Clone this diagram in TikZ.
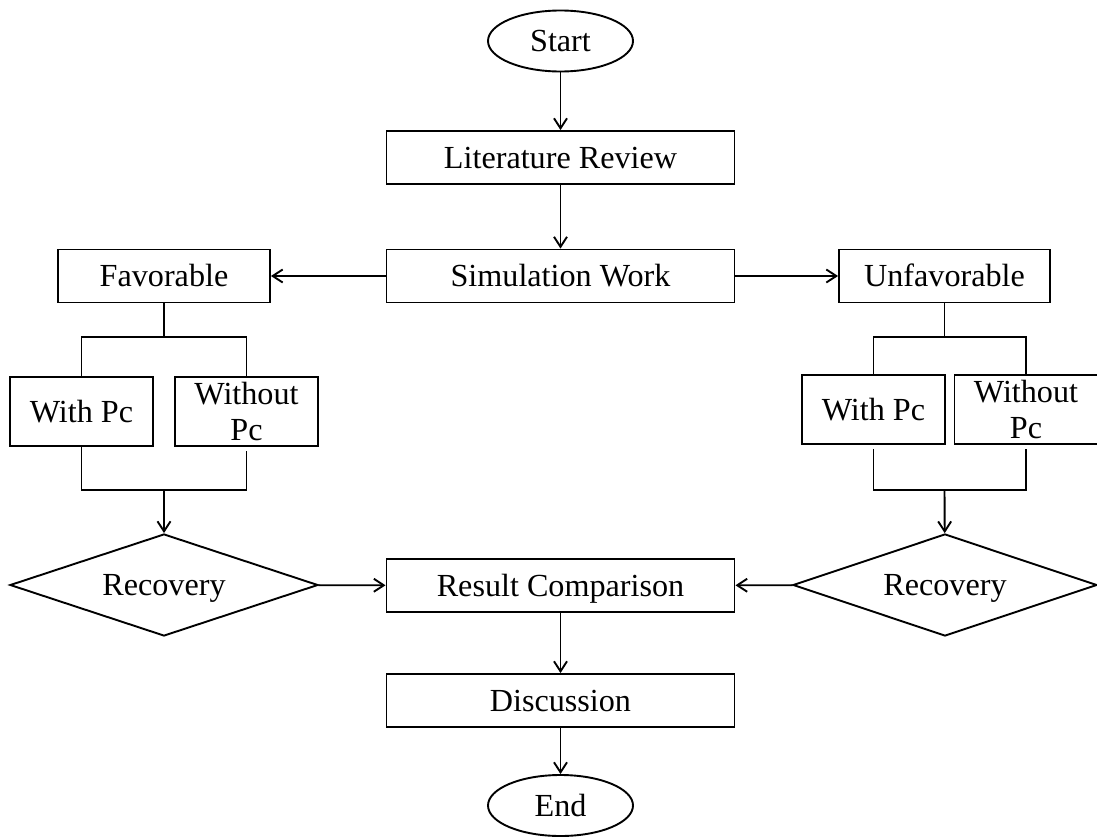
\documentclass[tikz,border=0pt]{standalone}
\usepackage{fontspec}
\setmainfont{Liberation Serif}
\usepackage{tikz}
\usetikzlibrary{positioning}
\usetikzlibrary{arrows.meta}
\usetikzlibrary{shapes.geometric}

\tikzset{
  box/.style={draw, line width=.38mm, minimum width=6.96cm, minimum height=1.06cm, inner sep=0pt, text height=12pt, text depth=0pt},
  smallbox/.style={draw, line width=.38mm, minimum width=2.86cm, minimum height=1.38cm, inner sep=0pt, align=center},
  terminal/.style={draw, ellipse, line width=.38mm, minimum width=2.9cm, minimum height=1.22cm, inner sep=0pt, text height=12pt, text depth=0pt},
  decision/.style={draw, diamond, line width=.38mm, aspect=3, minimum width=6.16cm, minimum height=2.04cm, inner sep=0pt, text height=12pt, text depth=0pt},
  flow/.style={->, color=black, line width=.38mm},
  branch/.style={color=black, line width=.38mm},
}

\begin{document}
\begin{tikzpicture}[>={Straight Barb[length=2mm,width=2.6mm]}, font=\fontsize{18.3}{20}\selectfont]
\useasboundingbox (0,0) rectangle (21.94,-16.74);

\node(start)[terminal] at (11.21,-0.82) {Start};
\node(lit)[box] at (11.21,-3.15) {Literature Review};
\node(sim)[box] at (11.21,-5.52) {Simulation Work};

\node(fav)[box, minimum width=4.24cm] at (3.28,-5.52) {Favorable};
\node(unfav)[box, minimum width=4.22cm] at (18.89,-5.52) {Unfavorable};

\node(wl)[smallbox] at (1.63,-8.23) {With Pc};
\node(wol)[smallbox] at (4.93,-8.23) {Without\\Pc};
\node(wr)[smallbox] at (17.47,-8.19) {With Pc};
\node(wor)[smallbox] at (20.52,-8.19) {Without\\Pc};

\node(recl)[decision] at (3.28,-11.70) {Recovery};
\node(recr)[decision, minimum width=6.08cm] at (18.9,-11.70) {Recovery};

\node(res)[box] at (11.21,-11.71) {Result Comparison};
\node(disc)[box] at (11.21,-14.01) {Discussion};
\node(end)[terminal] at (11.21,-16.11) {End};

\coordinate(fl) at (3.28,-6.74);
\coordinate(fr) at (18.89,-6.74);
\coordinate(jl) at (3.28,-9.8);
\coordinate(jr) at (18.89,-9.8);

\draw[flow] (start)--(lit);
\draw[flow] (lit)--(sim);
\draw[flow] (sim)--(fav);
\draw[flow] (sim)--(unfav);

\draw[branch] (fav)--(fl);
\draw[branch] (wl.north) |- (fl) -| (wol.north);
\draw[branch] (unfav)--(fr);
\draw[branch] (wr.north) |- (fr) -| (wor.north);

\draw[branch] (wl.south) |- (jl) -| ([yshift=-.08cm]wol.south);
\draw[branch] ([yshift=-.08cm]wr.south) |- (jr) -| ([yshift=-.08cm]wor.south);
\draw[flow] (jl)--(recl);
\draw[flow] (jr)--(recr);

\draw[flow] (recl)--(res);
\draw[flow] (recr)--(res);
\draw[flow] (res)--(disc);
\draw[flow] (disc)--(end);
\end{tikzpicture}
\end{document}
